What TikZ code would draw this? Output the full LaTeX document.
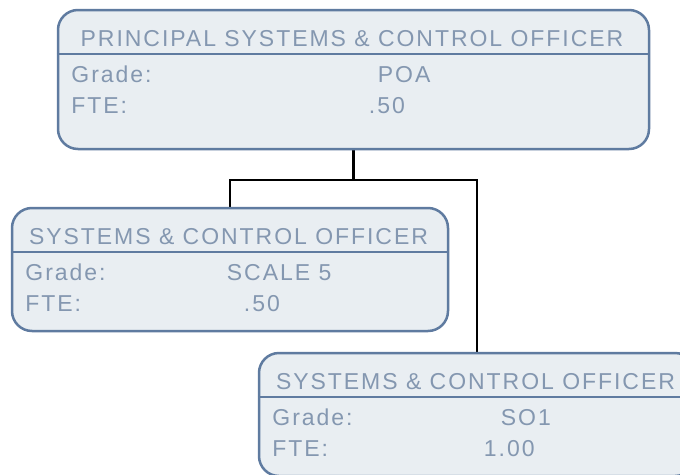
\documentclass[tikz,border=0pt]{standalone}
\usepackage{fontspec}
\setmainfont{Liberation Sans}[LetterSpace=8.5]
\usepackage{xcolor}
\usetikzlibrary{positioning, calc, backgrounds}

\definecolor{cardfill}{HTML}{E9EEF2}
\definecolor{cardedge}{HTML}{5F7BA0}
\definecolor{cardtext}{HTML}{8497B0}

\tikzset{
  card/.style={draw=cardedge, fill=cardfill, line width=2.5pt, rounded corners=20pt, inner sep=0pt},
  cardtxt/.style={text=cardtext, inner sep=0pt, font=\fontsize{23}{27}\selectfont},
  link/.style={draw=black, line width=2.4pt},
}

\begin{document}
\begin{tikzpicture}[x=1pt, y=-1pt]
  \useasboundingbox (0,0) rectangle (680,474);

  % one card per post: name/centre/size/title/grade/fte
  \foreach \n/\cx/\cy/\w/\h/\head/\grade/\gx/\fte/\fx in {
      poa/353.5/79.5/591/139/PRINCIPAL SYSTEMS \& CONTROL OFFICER/POA/321/.50/312,
      scoa/230/269.5/436/123/SYSTEMS \& CONTROL OFFICER/SCALE 5/216/.50/233,
      scob/477/414.5/436/123/SYSTEMS \& CONTROL OFFICER/SO1/243/1.00/226} {
    \node[card, minimum width=\w pt, minimum height=\h pt] (\n) at (\cx,\cy) {};
    \draw[cardedge, line width=2.5pt] ([yshift=-45pt]\n.north west) -- ([yshift=-45pt]\n.north east);
    \node[cardtxt, anchor=base] (\n-head) at ([xshift=-1.5pt, yshift=-37.5pt]\n.north) {\head};
    \node[cardtxt, anchor=base west] (\n-glab) at ([xshift=14.5pt, yshift=-74pt]\n.north west) {Grade:};
    \node[cardtxt, anchor=base west] (\n-ftelab) at ([xshift=14.5pt, yshift=-105pt]\n.north west) {FTE:};
    \node[cardtxt, anchor=base west] (\n-grade) at ([xshift=\gx pt, yshift=-74pt]\n.north west) {\grade};
    \node[cardtxt, anchor=base west] (\n-fte) at ([xshift=\fx pt, yshift=-105pt]\n.north west) {\fte};
  }

  % reporting lines
  \coordinate (fork) at ([yshift=-30pt]poa.south);
  \begin{scope}[on background layer]
    \draw[link] (poa.south) -- (fork);
    \draw[link] (scoa.north) |- (fork) -| (scob.north);
  \end{scope}
\end{tikzpicture}
\end{document}
